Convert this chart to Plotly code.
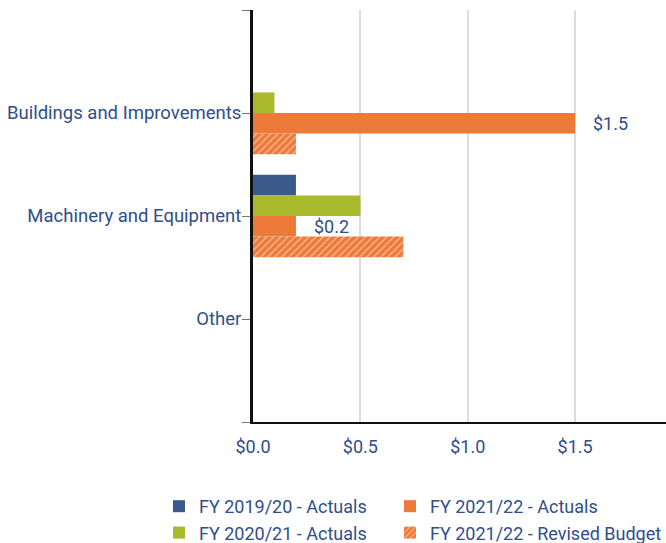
import plotly.graph_objects as go

categories = ["Buildings and Improvements", "Machinery and Equipment", "Other"]
series_names = ["FY 2019/20 - Actuals", "FY 2020/21 - Actuals",
                "FY 2021/22 - Actuals", "FY 2021/22 - Revised Budget"]
fy1920 = [None, 0.2, None]
fy2021 = [0.1, 0.5, None]
fy2122 = [1.5, 0.2, None]
fy2122_budget = [0.2, 0.7, None]
labels_fy2122 = ["$1.5", "$0.2", ""]
x_tickvals = [0, 0.5, 1.0, 1.5]
x_ticktext = ["$0.0", "$0.5", "$1.0", "$1.5"]

TEXT = "#2F4E8C"
BLUE = "#3A5A8C"
GREEN = "#A9BA2C"
ORANGE = "#EE7A3A"
FONT = "Roboto"

W, H = 666, 543
ML, MT, MB, MR = 253, 10, 121, 0

ypos = list(range(len(categories)))
series = [fy1920, fy2021, fy2122, fy2122_budget]
colors = [BLUE, GREEN, ORANGE, ORANGE]
legend_ids = ["legend", "legend", "legend2", "legend2"]

fig = go.Figure()
for i, (name, vals, col, lg) in enumerate(zip(series_names, series, colors, legend_ids)):
    marker = dict(color=col, line=dict(width=0))
    if i == 3:
        marker = dict(color=ORANGE, line=dict(width=0),
                      pattern=dict(shape="/", fgcolor="white", bgcolor=ORANGE,
                                   size=5, solidity=0.25))
    fig.add_trace(go.Bar(
        name=name, y=ypos, x=vals, orientation="h", marker=marker,
        legend=lg, hoverinfo="skip",
    ))

# value labels for FY 2021/22 actuals (third bar of four in each group)
n = len(series)
group_w = 0.8
offset = -group_w / 2 + group_w / n * 2.5
for yi, (v, lab) in enumerate(zip(fy2122, labels_fy2122)):
    if v is None or not lab:
        continue
    fig.add_annotation(x=v, y=yi + offset, xref="x", yref="y", text=lab,
                       showarrow=False, xanchor="left", yanchor="middle",
                       xshift=16, font=dict(family=FONT, size=18, color=TEXT))

# horizontal legends with wide entries -> one entry per row (no side-margin push)
legend_common = dict(orientation="h", xref="container", yref="container",
                     xanchor="left", yanchor="top", y=1 - 488 / H,
                     entrywidth=300, entrywidthmode="pixels",
                     font=dict(family=FONT, size=18, color=TEXT),
                     tracegroupgap=0, bgcolor="rgba(0,0,0,0)")

fig.update_layout(
    width=W, height=H,
    margin=dict(l=ML, r=MR, t=MT, b=MB),
    paper_bgcolor="white", plot_bgcolor="white",
    barmode="group", bargap=0.2, bargroupgap=0,
    font=dict(family=FONT, size=18, color=TEXT),
    showlegend=True,
    legend=dict(x=159 / W, **legend_common),
    legend2=dict(x=390 / W, **legend_common),
)
fig.update_xaxes(range=[0, 1.923], tickvals=x_tickvals, ticktext=x_ticktext,
                 showgrid=True, gridcolor="#DCDCDC", gridwidth=2,
                 zeroline=False, showline=True, linecolor="#111111", linewidth=2,
                 ticks="", ticklabelstandoff=7,
                 tickfont=dict(family=FONT, size=18, color=TEXT),
                 fixedrange=True)
fig.update_yaxes(range=[len(categories), -1],
                 tickvals=[-1] + ypos + [len(categories)],
                 ticktext=[""] + categories + [""],
                 showgrid=False, zeroline=False, showline=True,
                 linecolor="#111111", linewidth=3,
                 ticks="outside", ticklen=8, tickcolor="#777777", tickwidth=1,
                 ticklabelstandoff=-3,
                 tickfont=dict(family=FONT, size=18.5, color=TEXT),
                 fixedrange=True)

fig.write_html("out.html", config={"displayModeBar": False},
               post_script="document.body.style.margin='0';")
